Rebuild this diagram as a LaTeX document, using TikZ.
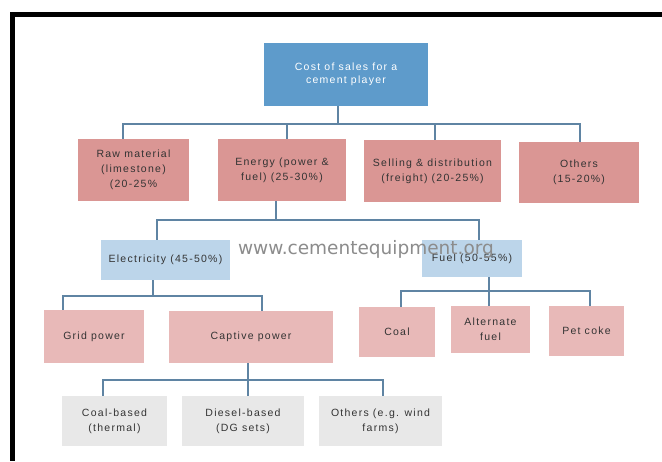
\documentclass[tikz,border=0pt]{standalone}
\usepackage{fontspec}
\setmainfont{Liberation Sans}[LetterSpace=12]
\newfontfamily\wmfont{DejaVu Sans}
\definecolor{rootblue}{HTML}{5E9BCB}
\definecolor{pinkA}{HTML}{DA9694}
\definecolor{pinkB}{HTML}{E8B9B8}
\definecolor{lblue}{HTML}{BCD5EA}
\definecolor{lgray}{HTML}{E8E8E8}
\definecolor{linec}{HTML}{5F84A3}
\definecolor{txt}{HTML}{333333}
\tikzset{
  box/.style={rectangle, inner sep=2pt, align=center, text=txt,
    font=\fontsize{10.5}{15}\selectfont},
  conn/.style={draw=linec, line width=1.3pt},
}
\begin{document}
\begin{tikzpicture}[x=1pt,y=-1pt]
\useasboundingbox (0,0) rectangle (662,461);
\fill[white] (0,0) rectangle (662,461);
% frame
\fill[black] (10,12) rectangle (662,17);
\fill[black] (10,12) rectangle (15,461);
% bus coordinates
\coordinate (b1) at (0,124);
\coordinate (b2) at (0,220);
\coordinate (b3) at (0,296);
\coordinate (b4) at (0,380);
\coordinate (b5) at (0,291);
% nodes
\node[box, fill=rootblue, text=white, minimum width=164pt, minimum height=63pt, font=\fontsize{10.5}{13.5}\selectfont] (root) at (346,74.5) {Cost of sales for a\\cement player};
\node[box, fill=pinkA, minimum width=111pt, minimum height=62pt] (raw) at (133.5,170) {Raw material\\(limestone)\\(20-25\%};
\node[box, fill=pinkA, minimum width=128pt, minimum height=62pt] (energy) at (282,170) {Energy (power \&\\fuel) (25-30\%)};
\node[box, fill=pinkA, minimum width=137pt, minimum height=62pt] (selling) at (432.5,171) {Selling \& distribution\\(freight) (20-25\%)};
\node[box, fill=pinkA, minimum width=120pt, minimum height=61pt] (others) at (579,172.5) {Others\\(15-20\%)};
\node[box, fill=lblue, minimum width=129pt, minimum height=40pt] (elec) at (165.5,260) {Electricity (45-50\%)};
\node[box, fill=lblue, minimum width=100pt, minimum height=37pt] (fuel) at (472,258.5) {Fuel (50-55\%)};
\node[box, fill=pinkB, minimum width=100pt, minimum height=53pt] (grid) at (94,336.5) {Grid power};
\node[box, fill=pinkB, minimum width=164pt, minimum height=52pt] (captive) at (251,337) {Captive power};
\node[box, fill=pinkB, minimum width=76pt, minimum height=50pt] (coal) at (397,332) {Coal};
\node[box, fill=pinkB, minimum width=79pt, minimum height=47pt] (alt) at (490.5,329.5) {Alternate\\fuel};
\node[box, fill=pinkB, minimum width=75pt, minimum height=50pt] (pet) at (586.5,331) {Pet coke};
\node[box, fill=lgray, minimum width=105pt, minimum height=50pt] (coalb) at (114.5,421) {Coal-based\\(thermal)};
\node[box, fill=lgray, minimum width=122pt, minimum height=50pt] (diesel) at (243,421) {Diesel-based\\(DG sets)};
\node[box, fill=lgray, minimum width=123pt, minimum height=50pt] (othw) at (380.5,421) {Others (e.g. wind\\farms)};
% connectors level 1
\draw[conn] ([xshift=-8pt]root.south) -- ([xshift=-8pt]root.south |- b1);
\draw[conn] ([xshift=-10.5pt]raw.north) -- ([xshift=-10.5pt]raw.north |- b1) -- ([xshift=1pt]others.north |- b1) -- ([xshift=1pt]others.north);
\draw[conn] ([xshift=5pt]energy.north) -- ([xshift=5pt]energy.north |- b1);
\draw[conn] ([xshift=2.5pt]selling.north) -- ([xshift=2.5pt]selling.north |- b1);
% level 2
\draw[conn] ([xshift=-6pt]energy.south) -- ([xshift=-6pt]energy.south |- b2);
\draw[conn] ([xshift=-8.5pt]elec.north) -- ([xshift=-8.5pt]elec.north |- b2) -- ([xshift=7pt]fuel.north |- b2) -- ([xshift=7pt]fuel.north);
% electricity children
\draw[conn] ([xshift=-12.5pt]elec.south) -- ([xshift=-12.5pt]elec.south |- b3);
\draw[conn] ([xshift=-31pt]grid.north) -- ([xshift=-31pt]grid.north |- b3) -- ([xshift=11pt]captive.north |- b3) -- ([xshift=11pt]captive.north);
% captive children
\draw[conn] ([xshift=-3pt]captive.south) -- ([xshift=-3pt]captive.south |- b4);
\draw[conn] ([xshift=-11.5pt]coalb.north) -- ([xshift=-11.5pt]coalb.north |- b4) -- ([xshift=2.5pt]othw.north |- b4) -- ([xshift=2.5pt]othw.north);
\draw[conn] ([xshift=5pt]diesel.north) -- ([xshift=5pt]diesel.north |- b4);
% fuel children
\draw[conn] ([xshift=17pt]fuel.south) -- ([xshift=17pt]fuel.south |- b5);
\draw[conn] ([xshift=4pt]coal.north) -- ([xshift=4pt]coal.north |- b5) -- ([xshift=3.5pt]pet.north |- b5) -- ([xshift=3.5pt]pet.north);
\draw[conn] ([xshift=-1.5pt]alt.north) -- ([xshift=-1.5pt]alt.north |- b5);
% watermark
\node[text=black!45, font=\wmfont\fontsize{18.5}{22}\selectfont, inner sep=0pt] (wm) at (366,249) {www.cementequipment.org};
\end{tikzpicture}
\end{document}
